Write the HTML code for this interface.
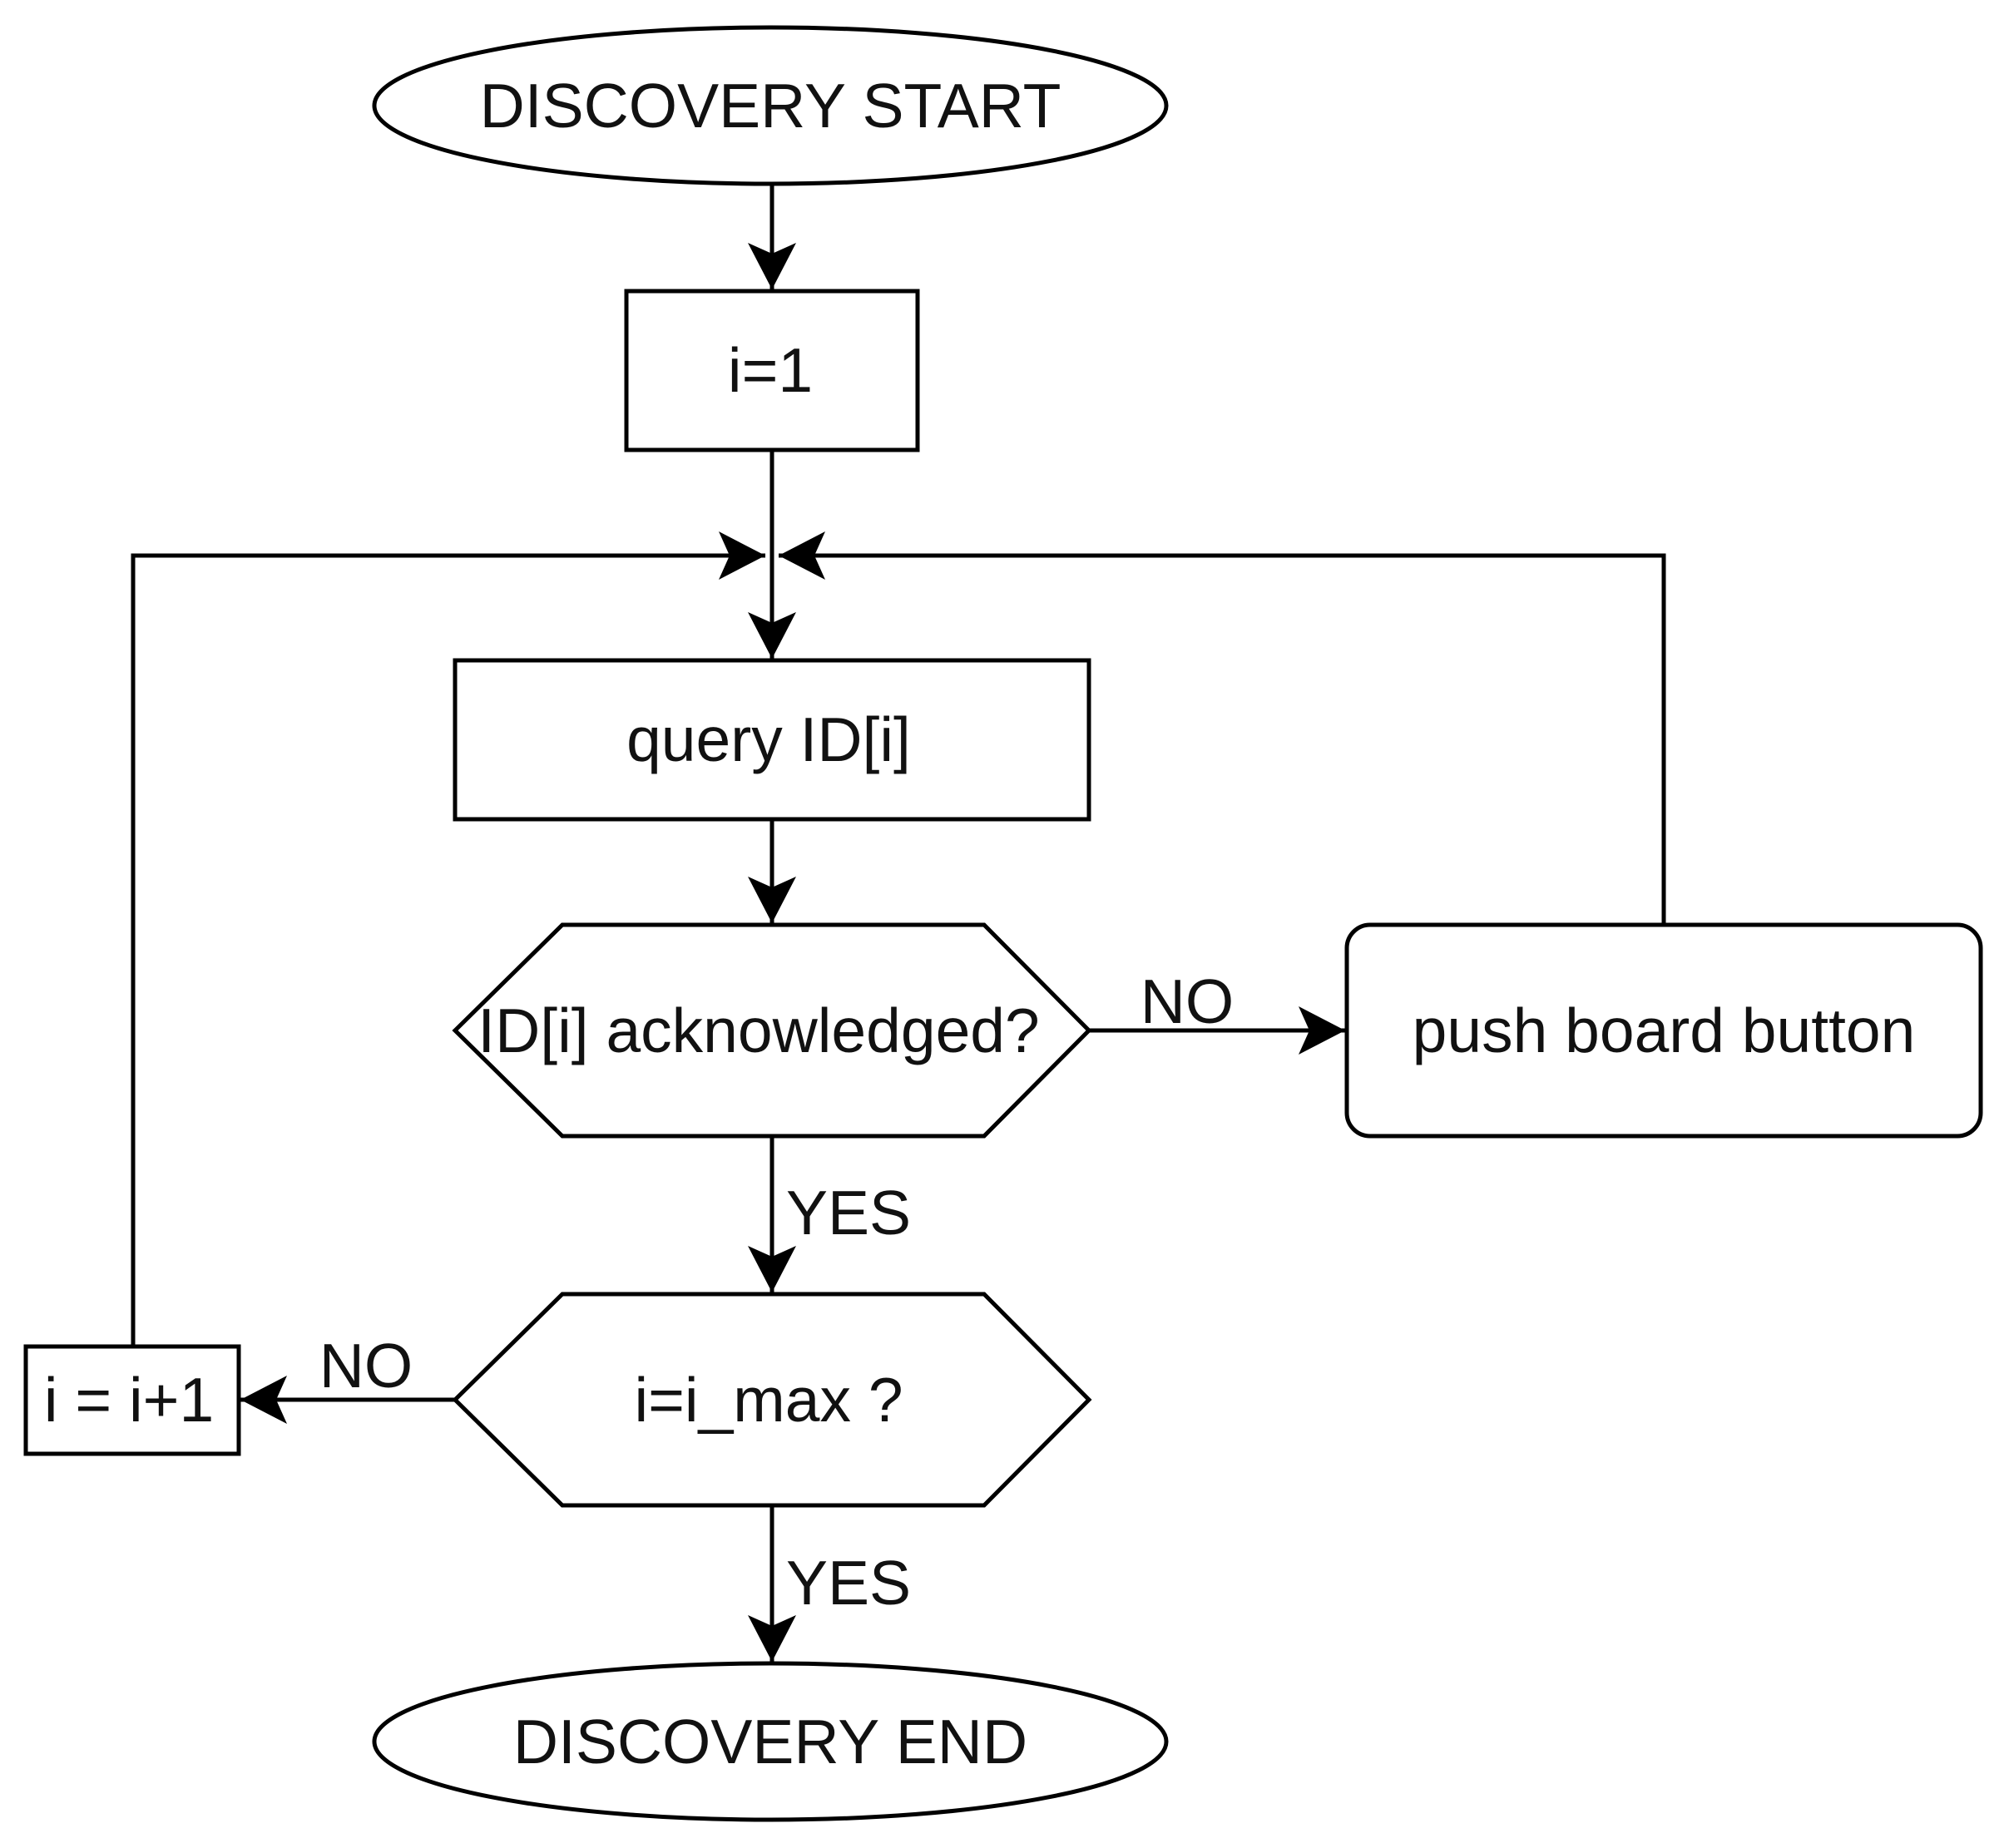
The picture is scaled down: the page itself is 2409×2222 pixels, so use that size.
<!DOCTYPE html>
<html><head><meta charset="utf-8"><style>
html,body{margin:0;padding:0;background:#fff;}
svg{display:block;}
text{font-family:"Liberation Sans",Arial,sans-serif;font-size:75px;fill:#111;}
</style></head><body>
<svg width="2409" height="2222" viewBox="0 0 2409 2222" xmlns="http://www.w3.org/2000/svg">
<defs>
<marker id="a" viewBox="0 0 56 58" refX="56" refY="29" markerWidth="56" markerHeight="58" markerUnits="userSpaceOnUse" orient="auto">
<path d="M0,0 L56,29 L0,58 L13,29 Z" fill="#000"/>
</marker>
</defs>
<g stroke="#000" stroke-width="5" fill="#fff">
<ellipse cx="926" cy="127" rx="476" ry="94"/>
<rect x="753" y="350" width="350" height="191"/>
<rect x="547" y="794" width="762" height="191"/>
<polygon points="547,1239 676,1112 1183,1112 1309,1239 1183,1366 676,1366"/>
<rect x="1619" y="1112" width="762" height="254" rx="28"/>
<polygon points="547,1683 676,1556 1183,1556 1309,1683 1183,1810 676,1810"/>
<rect x="31" y="1619" width="256" height="129"/>
<ellipse cx="926" cy="2094" rx="476" ry="94"/>
</g>
<g stroke="#000" stroke-width="5" fill="none">
<line x1="928" y1="221" x2="928" y2="348" marker-end="url(#a)"/>
<line x1="928" y1="541" x2="928" y2="792" marker-end="url(#a)"/>
<polyline points="160,1619 160,668 920,668" marker-end="url(#a)"/>
<polyline points="2000,1112 2000,668 936,668" marker-end="url(#a)"/>
<line x1="928" y1="985" x2="928" y2="1110" marker-end="url(#a)"/>
<line x1="1309" y1="1239" x2="1617" y2="1239" marker-end="url(#a)"/>
<line x1="928" y1="1366" x2="928" y2="1554" marker-end="url(#a)"/>
<line x1="547" y1="1683" x2="289" y2="1683" marker-end="url(#a)"/>
<line x1="928" y1="1810" x2="928" y2="1998" marker-end="url(#a)"/>
</g>
<g text-anchor="middle">
<text x="926" y="153">DISCOVERY START</text>
<text x="926" y="471">i=1</text>
<text x="924" y="915">query ID[i]</text>
<text x="912" y="1265">ID[i] acknowledged?</text>
<text x="2000" y="1265">push board button</text>
<text x="924" y="1709">i=i_max ?</text>
<text x="155" y="1709">i = i+1</text>
<text x="926" y="2120">DISCOVERY END</text>
<text x="1427" y="1230">NO</text>
<text x="1020" y="1484">YES</text>
<text x="440" y="1668">NO</text>
<text x="1020" y="1929">YES</text>
</g>
</svg>
</body></html>
